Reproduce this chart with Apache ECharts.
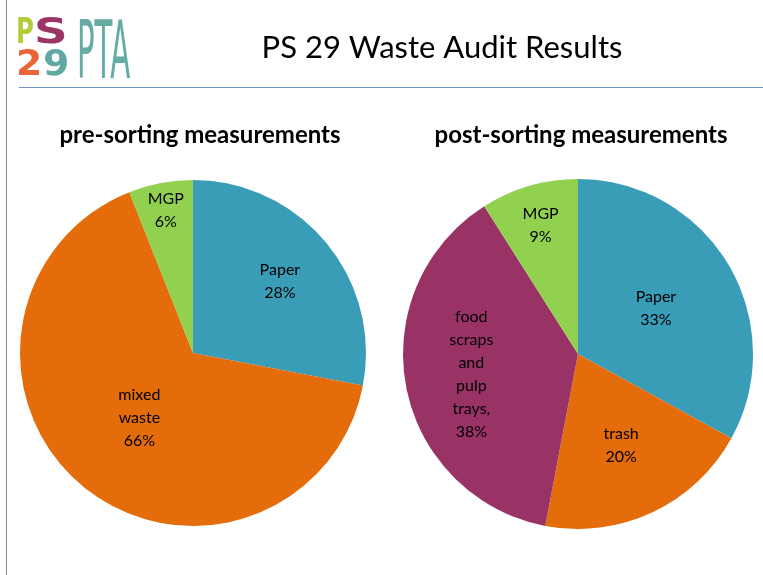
<!DOCTYPE html>
<html><head><meta charset="utf-8">
<script src="https://cdn.jsdelivr.net/npm/echarts@6/dist/echarts.min.js"></script>
<style>html,body{margin:0;padding:0;background:#fff}#c{width:763px;height:575px}</style>
</head><body><div id="c"></div>
<script>
const preCategories = ['Paper', 'mixed waste', 'MGP'];
const preValues = [28, 66, 6];
const postCategories = ['Paper', 'trash', 'food scraps and pulp trays', 'MGP'];
const postValues = [33, 20, 38, 9];
const preColors = ['#3A9DB8', '#E46C0A', '#92D050'];
const postColors = ['#3A9DB8', '#E46C0A', '#993366', '#92D050'];
// label radial placement (fraction of radius), styling only
const preLabelR = [0.63, 0.47, 0.81];
const postLabelR = [0.5, 0.56, 0.6, 0.74];

const chart = echarts.init(document.getElementById('c'), null, {renderer: 'canvas'});
const FONT = 'Lato, "Open Sans", sans-serif';
const pies = [
  {cx: 193, cy: 353, r: 173, f: preLabelR},
  {cx: 578, cy: 354, r: 175, f: postLabelR}
];
function fmt(p) {
  const words = p.name.split(' ');
  if (words.length > 2) return words.join('\n') + ',\n' + p.percent.toFixed(0) + '%';
  return words.join('\n') + '\n' + p.percent.toFixed(0) + '%';
}
function mkSeries(idx, cats, vals, cols) {
  const P = pies[idx];
  return {
    type: 'pie', center: [P.cx, P.cy], radius: P.r, startAngle: 90, clockwise: true,
    animation: false, silent: true,
    itemStyle: {borderWidth: 0},
    label: {position: 'inside', formatter: fmt, color: '#000', fontFamily: FONT, fontSize: 16, lineHeight: 23, align: 'center'},
    labelLine: {show: false},
    labelLayout: function (params) {
      const rc = params.labelRect;
      const lx = rc.x + rc.width / 2, ly = rc.y + rc.height / 2;
      const k = P.f[params.dataIndex] / 0.5;
      return {dx: (P.cx + (lx - P.cx) * k) - lx, dy: (P.cy + (ly - P.cy) * k) - ly};
    },
    data: cats.map((c, i) => ({name: c, value: vals[i], itemStyle: {color: cols[i]}}))
  };
}
chart.setOption({
  animation: false,
  title: [
    {text: 'PS 29 Waste Audit Results', left: 437, top: 27, textAlign: 'center',
     textStyle: {fontFamily: FONT, fontWeight: 'normal', fontSize: 31, color: '#000'}},
    {text: 'pre-sorting measurements', left: 195, top: 118, textAlign: 'center',
     textStyle: {fontFamily: FONT, fontWeight: 'bold', fontSize: 24, color: '#000'}},
    {text: 'post-sorting measurements', left: 576, top: 118, textAlign: 'center',
     textStyle: {fontFamily: FONT, fontWeight: 'bold', fontSize: 24, color: '#000'}}
  ],
  graphic: [
    {type: 'line', shape: {x1: 6.5, y1: 0, x2: 6.5, y2: 575}, style: {stroke: '#8a8a8a', lineWidth: 1}},
    {type: 'line', shape: {x1: 19, y1: 87.5, x2: 763, y2: 87.5}, style: {stroke: '#6B8FC6', lineWidth: 1}},
    {type: 'text', x: 16, y: 16, scaleX: 0.68, style: {text: 'P', font: 'bold 36px "DejaVu Sans"', fill: '#B5CC3A'}},
    {type: 'text', x: 34, y: 16, scaleX: 1.3, style: {text: 'S', font: 'bold 36px "DejaVu Sans"', fill: '#9B3565'}},
    {type: 'text', x: 16, y: 48, scaleX: 1.05, style: {text: '2', font: 'bold 36px "DejaVu Sans"', fill: '#E8653A'}},
    {type: 'text', x: 43, y: 48, scaleX: 1.05, style: {text: '9', font: 'bold 36px "DejaVu Sans"', fill: '#5FA9A2'}},
    {type: 'text', x: 77, y: 16, scaleX: 0.36, style: {text: 'PTA', font: '81px "DejaVu Sans"', fill: '#64ACA4'}}
  ],
  series: [
    mkSeries(0, preCategories, preValues, preColors),
    mkSeries(1, postCategories, postValues, postColors)
  ]
});
</script></body></html>
